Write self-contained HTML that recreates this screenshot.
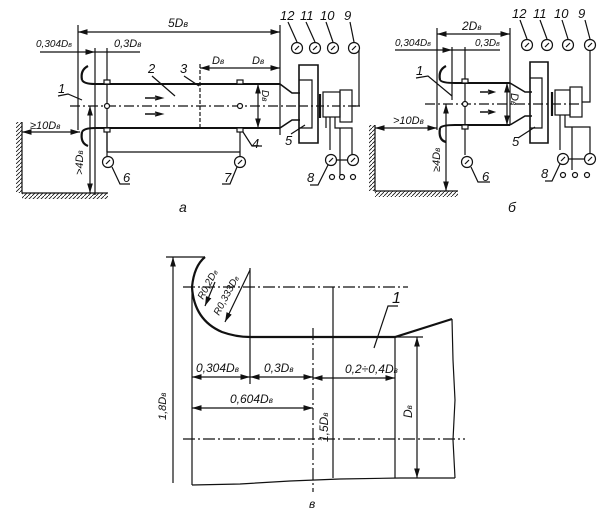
<!DOCTYPE html>
<html><head><meta charset="utf-8"><style>
html,body{margin:0;padding:0;background:#fff;}
svg{display:block;}
text{font-family:"Liberation Sans",sans-serif;font-style:italic;fill:#111;}
</style></head><body>
<svg width="605" height="513" viewBox="0 0 605 513" xmlns="http://www.w3.org/2000/svg" stroke="#111" fill="none" stroke-width="1.2">
<defs>
<marker id="a" viewBox="0 0 10 6" refX="10" refY="3" markerWidth="8" markerHeight="5" orient="auto-start-reverse"><path d="M0,0L10,3L0,6z" fill="#111" stroke="none"/></marker>
<pattern id="h" width="4" height="4" patternUnits="userSpaceOnUse"><path d="M0,4L4,0" stroke="#111" stroke-width="0.8"/></pattern>
</defs>

<!-- ===== Diagram a ===== -->
<line x1="78" y1="25" x2="78" y2="130"/>
<line x1="280" y1="25" x2="280" y2="135"/>
<line x1="78" y1="32" x2="280" y2="32" marker-start="url(#a)" marker-end="url(#a)"/>
<text x="168" y="27" font-size="12" stroke="none">5D<tspan font-size="9">в</tspan></text>
<line x1="40" y1="52" x2="95" y2="52" marker-end="url(#a)"/>
<line x1="95" y1="52" x2="140" y2="52"/>
<text x="36" y="47" font-size="10" stroke="none">0,304D<tspan font-size="7">в</tspan></text>
<text x="114" y="47" font-size="11" stroke="none">0,3D<tspan font-size="8">в</tspan></text>
<line x1="95" y1="48" x2="95" y2="195"/>
<line x1="107" y1="48" x2="107" y2="152"/>
<path d="M82,80 Q80,70 88,66" stroke-width="2.2"/>
<path d="M82,80 Q84,84 95,84 L280,84" stroke-width="2"/>
<path d="M82,132 Q80,143 88,146" stroke-width="2.2"/>
<path d="M82,132 Q84,128 95,128 L280,128" stroke-width="2"/>
<path d="M280,84 L292,93 L300,93 M280,128 L292,120 L300,120" stroke-width="1.6"/>
<line x1="70" y1="106" x2="300" y2="106" stroke-dasharray="10,3,2,3"/>
<circle cx="107" cy="106" r="2.5" fill="#fff"/>
<circle cx="240" cy="106" r="2.5" fill="#fff"/>
<rect x="104" y="80" width="6" height="4" fill="#fff"/>
<rect x="104" y="128" width="6" height="4" fill="#fff"/>
<rect x="237" y="80" width="6" height="4" fill="#fff"/>
<rect x="237" y="128" width="6" height="4" fill="#fff"/>
<line x1="200" y1="64" x2="200" y2="128" stroke-dasharray="4,2"/>
<line x1="200" y1="68" x2="280" y2="68" marker-start="url(#a)" marker-end="url(#a)"/>
<text x="212" y="64" font-size="11" stroke="none">D<tspan font-size="8">в</tspan></text>
<text x="252" y="64" font-size="11" stroke="none">D<tspan font-size="8">в</tspan></text>
<line x1="258" y1="84" x2="258" y2="128" marker-start="url(#a)" marker-end="url(#a)"/>
<text x="0" y="0" font-size="10" stroke="none" transform="translate(262,90) rotate(90)">D<tspan font-size="8">в</tspan></text>
<path d="M145,98 L162,98 M155,96 L162,98 L155,100 M145,114 L162,114 M155,112 L162,114 L155,116" stroke-width="1.4"/>
<text x="58" y="93" font-size="13" stroke="none">1</text><path d="M58,96 L68,94 L82,100"/>
<text x="148" y="73" font-size="13" stroke="none">2</text><path d="M152,76 L175,96"/>
<text x="180" y="73" font-size="13" stroke="none">3</text><path d="M184,76 L199,86"/>
<text x="252" y="148" font-size="13" stroke="none">4</text><path d="M243,132 L252,146 L262,146"/>
<text x="285" y="145" font-size="13" stroke="none">5</text><path d="M291,134 L305,125"/>
<path d="M299,65 L318,65 L318,143 L299,143 Z" stroke-width="1.6"/>
<path d="M299,80 L312,80 L312,128 L299,128" />
<line x1="320" y1="94" x2="320" y2="118" stroke-width="2.2"/>
<rect x="323" y="92" width="17" height="25"/>
<rect x="340" y="90" width="12" height="32"/>
<line x1="300" y1="106" x2="360" y2="106" stroke-dasharray="8,3,2,3"/>
<circle cx="297" cy="48" r="5.5"/><circle cx="315" cy="48" r="5.5"/><circle cx="333" cy="48" r="5.5"/><circle cx="354" cy="48" r="5.5"/>
<path d="M295,50L299,46M313,50L317,46M331,50L335,46M352,50L356,46"/>
<path d="M297,42 L288,22 M315,42 L306,22 M333,42 L326,22 M354,42 L350,22"/>
<text x="280" y="20" font-size="13" stroke="none">12</text>
<text x="300" y="20" font-size="13" stroke="none">11</text>
<text x="320" y="20" font-size="13" stroke="none">10</text>
<text x="344" y="20" font-size="13" stroke="none">9</text>
<path d="M359,50 L359,106 L352,106"/>
<path d="M330,117 L330,150 M335,117 L335,128 L340,128 L340,175 M340,128 L352,128 L352,154 M326,117 L326,128"/>
<circle cx="331" cy="160" r="5.5"/><circle cx="353" cy="160" r="5.5"/>
<path d="M336,160 L348,160 M329,162L333,158 M351,162L355,158"/>
<circle cx="332" cy="177" r="2.5"/><circle cx="342" cy="177" r="2.5"/><circle cx="353" cy="177" r="2.5"/>
<text x="307" y="182" font-size="13" stroke="none">8</text><path d="M310,185 L318,185 L328,165"/>
<path d="M107,132 L107,157 M107,152 L240,152 M240,132 L240,157"/>
<circle cx="108" cy="162" r="5.5"/><circle cx="240" cy="162" r="5.5"/>
<path d="M106,164L110,160 M238,164L242,160"/>
<text x="123" y="182" font-size="13" stroke="none">6</text><path d="M112,167 L120,184 L130,184"/>
<text x="224" y="182" font-size="13" stroke="none">7</text><path d="M237,167 L230,184 L222,184"/>
<rect x="16" y="122" width="6" height="71" fill="url(#h)" stroke="none"/>
<rect x="22" y="193" width="86" height="6" fill="url(#h)" stroke="none"/>
<path d="M22,122 L22,193 L108,193"/>
<line x1="22" y1="132" x2="80" y2="132" marker-start="url(#a)" marker-end="url(#a)"/>
<text x="30" y="129" font-size="11" stroke="none">≥10D<tspan font-size="8">в</tspan></text>
<line x1="90" y1="106" x2="90" y2="193" marker-start="url(#a)" marker-end="url(#a)"/>
<text x="0" y="0" font-size="11" stroke="none" transform="translate(83,150) rotate(-90) translate(-25,0)">&gt;4D<tspan font-size="8">в</tspan></text>
<text x="179" y="212" font-size="14" stroke="none">а</text>

<!-- ===== Diagram б ===== -->
<line x1="437" y1="28" x2="437" y2="130"/>
<line x1="510" y1="28" x2="510" y2="125"/>
<line x1="437" y1="34" x2="510" y2="34" marker-start="url(#a)" marker-end="url(#a)"/>
<text x="462" y="30" font-size="12" stroke="none">2D<tspan font-size="8">в</tspan></text>
<line x1="395" y1="50" x2="452" y2="50" marker-end="url(#a)"/>
<line x1="452" y1="50" x2="500" y2="50"/>
<text x="395" y="46" font-size="10" stroke="none">0,304D<tspan font-size="7">в</tspan></text>
<text x="475" y="46" font-size="10" stroke="none">0,3D<tspan font-size="7">в</tspan></text>
<line x1="452" y1="47" x2="452" y2="100"/>
<line x1="465" y1="47" x2="465" y2="155"/>
<path d="M440,80 Q438,70 446,66" stroke-width="2.2"/>
<path d="M440,80 Q442,83 455,83 L510,83" stroke-width="2"/>
<path d="M440,128 Q438,140 446,142" stroke-width="2.2"/>
<path d="M440,128 Q442,125 455,125 L510,125" stroke-width="2"/>
<path d="M510,83 L525,92 L532,92 M510,125 L525,116 L532,116" stroke-width="1.6"/>
<line x1="425" y1="104" x2="580" y2="104" stroke-dasharray="10,3,2,3"/>
<circle cx="465" cy="104" r="2.5" fill="#fff"/>
<rect x="462" y="79" width="6" height="4" fill="#fff"/>
<rect x="462" y="125" width="6" height="4" fill="#fff"/>
<line x1="507" y1="83" x2="507" y2="125" marker-start="url(#a)" marker-end="url(#a)"/>
<text x="0" y="0" font-size="11" stroke="none" transform="translate(511,93) rotate(90)">D<tspan font-size="8">в</tspan></text>
<path d="M480,92 L494,92 M488,90 L494,92 L488,94 M480,112 L494,112 M488,110 L494,112 L488,114" stroke-width="1.4"/>
<text x="416" y="75" font-size="13" stroke="none">1</text><path d="M416,78 L428,76 L452,96"/>
<text x="512" y="146" font-size="13" stroke="none">5</text><path d="M518,138 L535,127"/>
<path d="M530,62 L548,62 L548,143 L530,143 Z" stroke-width="1.6"/>
<path d="M530,78 L542,78 L542,128 L530,128"/>
<line x1="552" y1="92" x2="552" y2="116" stroke-width="2.2"/>
<rect x="555" y="90" width="15" height="25"/>
<rect x="570" y="87" width="12" height="30"/>
<circle cx="527" cy="45" r="5.5"/><circle cx="547" cy="45" r="5.5"/><circle cx="568" cy="45" r="5.5"/><circle cx="590" cy="45" r="5.5"/>
<path d="M525,47L529,43M545,47L549,43M566,47L570,43M588,47L592,43"/>
<path d="M527,39 L520,20 M547,39 L540,20 M568,39 L562,20 M590,39 L585,20"/>
<text x="512" y="18" font-size="13" stroke="none">12</text>
<text x="533" y="18" font-size="13" stroke="none">11</text>
<text x="554" y="18" font-size="13" stroke="none">10</text>
<text x="578" y="18" font-size="13" stroke="none">9</text>
<path d="M590,51 L590,102 L582,102"/>
<path d="M560,115 L560,150 M565,115 L565,127 L572,127 L572,170 M572,127 L590,127 L590,153"/>
<circle cx="563" cy="159" r="5.5"/><circle cx="590" cy="159" r="5.5"/>
<path d="M568,159 L585,159 M561,161L565,157 M588,161L592,157"/>
<circle cx="563" cy="175" r="2.5"/><circle cx="575" cy="175" r="2.5"/><circle cx="587" cy="175" r="2.5"/>
<text x="541" y="178" font-size="13" stroke="none">8</text><path d="M545,181 L552,181 L560,164"/>
<circle cx="467" cy="162" r="5.5"/><path d="M465,164L469,160"/>
<text x="482" y="181" font-size="13" stroke="none">6</text><path d="M471,167 L478,182 L490,182"/>
<rect x="369" y="125" width="6" height="66" fill="url(#h)" stroke="none"/>
<rect x="375" y="191" width="83" height="6" fill="url(#h)" stroke="none"/>
<path d="M375,125 L375,191 L458,191"/>
<line x1="375" y1="128" x2="437" y2="128" marker-start="url(#a)" marker-end="url(#a)"/>
<text x="393" y="124" font-size="11" stroke="none">&gt;10D<tspan font-size="8">в</tspan></text>
<line x1="446" y1="104" x2="446" y2="191" marker-start="url(#a)" marker-end="url(#a)"/>
<text x="0" y="0" font-size="11" stroke="none" transform="translate(440,150) rotate(-90) translate(-22,0)">≥4D<tspan font-size="8">в</tspan></text>
<text x="508" y="212" font-size="14" stroke="none">б</text>

<!-- ===== Diagram в ===== -->
<line x1="166" y1="257" x2="205" y2="257"/>
<line x1="173" y1="257" x2="173" y2="483" marker-start="url(#a)"/>
<text x="0" y="0" font-size="11" stroke="none" transform="translate(166,420) rotate(-90)">1,8D<tspan font-size="8">в</tspan></text>
<path d="M205,257 Q194,266 192,287 Q194,320 222,332 Q236,337 250,337 L395,337 L452,319" stroke-width="2.2"/>
<line x1="183" y1="287" x2="408" y2="287" stroke-dasharray="12,3,2,3"/>
<line x1="250" y1="268" x2="250" y2="384"/>
<line x1="192" y1="287" x2="192" y2="485"/>
<line x1="313" y1="328" x2="313" y2="492" stroke-dasharray="12,3,2,3"/>
<line x1="333" y1="287" x2="333" y2="478"/>
<line x1="395" y1="337" x2="395" y2="478"/>
<path d="M452,319 L453,360 L455,400 L453,440 L455,478"/>
<path d="M192,485 L240,484 L290,481 L340,479 L400,478 L455,478"/>
<line x1="183" y1="439" x2="465" y2="439" stroke-dasharray="12,3,2,3"/>
<line x1="395" y1="337" x2="423" y2="337"/>
<line x1="417" y1="337" x2="417" y2="478" marker-start="url(#a)" marker-end="url(#a)"/>
<text x="0" y="0" font-size="12" stroke="none" transform="translate(412,418) rotate(-90)">D<tspan font-size="8">в</tspan></text>
<line x1="192" y1="377" x2="250" y2="377" marker-start="url(#a)" marker-end="url(#a)"/>
<line x1="250" y1="377" x2="313" y2="377" marker-start="url(#a)" marker-end="url(#a)"/>
<line x1="313" y1="378" x2="395" y2="378" marker-start="url(#a)" marker-end="url(#a)"/>
<text x="196" y="372" font-size="12" stroke="none">0,304D<tspan font-size="8">в</tspan></text>
<text x="264" y="372" font-size="12" stroke="none">0,3D<tspan font-size="8">в</tspan></text>
<text x="345" y="373" font-size="12" stroke="none">0,2÷0,4D<tspan font-size="8">в</tspan></text>
<line x1="192" y1="408" x2="313" y2="408" marker-start="url(#a)" marker-end="url(#a)"/>
<text x="230" y="403" font-size="12" stroke="none">0,604D<tspan font-size="8">в</tspan></text>
<text x="0" y="0" font-size="12" stroke="none" transform="translate(328,442) rotate(-90)">1,5D<tspan font-size="8">в</tspan></text>
<line x1="215" y1="282" x2="205" y2="306" marker-end="url(#a)"/>
<line x1="250" y1="270" x2="225" y2="322" marker-end="url(#a)"/>
<text x="0" y="0" font-size="10" stroke="none" transform="translate(203,300) rotate(-62)">R0,2D<tspan font-size="7">в</tspan></text>
<text x="0" y="0" font-size="10" stroke="none" transform="translate(219,316) rotate(-62)">R0,333D<tspan font-size="7">в</tspan></text>
<text x="392" y="303" font-size="16" stroke="none">1</text>
<path d="M398,306 L388,306 L374,348"/>
<text x="309" y="508" font-size="12" stroke="none">в</text>
</svg>
</body></html>
